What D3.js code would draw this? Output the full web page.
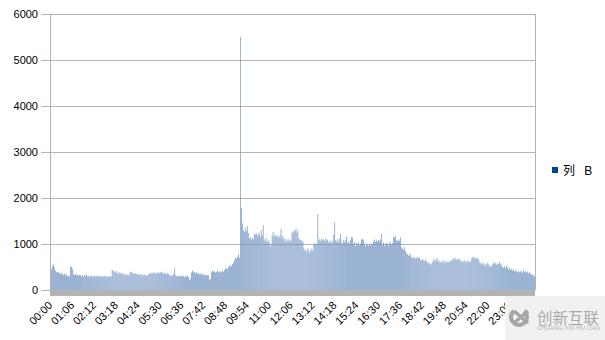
<!DOCTYPE html>
<html>
<head>
<meta charset="utf-8">
<script src="https://cdn.jsdelivr.net/npm/d3@7"></script>
<style>
html,body{margin:0;padding:0;background:#fff;}
svg{display:block;}
text{font-family:"Liberation Sans","Noto Sans CJK SC",sans-serif;}
</style>
</head>
<body>
<svg id="chart" width="605" height="340"></svg>
<script>
// ---- data (3-minute samples) ----
const values = [
 320,450,520,550,480,420,390,380,400,370,
 350,380,340,330,360,320,340,300,310,290,
 500,510,460,340,330,350,320,340,310,330,
 320,300,330,290,320,310,340,300,310,290,
 300,310,290,300,320,280,300,310,290,300,
 310,290,300,280,310,300,290,300,280,300,
 290,300,440,420,400,380,410,370,360,390,
 350,380,340,360,330,350,320,340,330,310,
 400,390,380,360,370,350,360,340,350,330,
 340,320,350,330,310,340,320,300,330,350,
 360,380,350,370,390,360,380,350,370,390,
 360,380,400,370,350,380,360,340,370,350,
 320,300,330,310,350,470,320,300,310,290,
 300,320,290,310,300,280,300,290,310,280,
 220,250,380,420,400,380,360,390,350,370,
 340,360,330,350,320,340,330,310,330,320,
 220,240,400,420,390,410,380,400,420,390,
 410,380,400,420,390,430,460,480,450,500,
 520,540,510,560,600,650,700,680,720,780,
 700,5500,1780,1450,1300,1250,1350,1280,1390,1240,
 1120,1150,1090,1130,1100,1220,1200,1240,1180,1210,
 1250,1150,1300,1180,1410,1100,1060,1130,1040,1090,
 1050,950,1000,1180,1260,1150,1200,1170,1190,1150,
 1150,1200,1340,1120,1180,1080,1120,1040,1100,1060,
 1110,1050,1090,1260,1240,1300,1280,1340,1250,1290,
 1120,1080,1100,1060,1050,900,850,880,820,910,
 860,800,870,900,850,1000,1020,990,1010,1650,
 1080,1110,1060,1120,1090,1100,1060,1120,1080,1100,
 1050,1020,1080,1010,1060,1200,1470,1080,1050,1110,
 1030,1120,1230,1050,1010,1080,1040,1090,1160,1020,
 1060,1010,1090,1160,1140,1000,1040,950,1020,980,
 1030,970,1010,1100,1110,1090,1000,950,1010,980,
 960,1000,970,1010,990,1060,1100,1040,1080,1050,
 1090,1060,1100,1230,1000,1040,960,1020,990,1030,
 950,1010,1040,980,1020,1160,1140,1170,1080,1060,
 1100,1070,1150,930,900,880,940,850,800,780,
 760,740,800,720,700,690,720,680,700,710,
 690,720,660,640,680,650,620,660,640,600,
 580,600,560,550,600,640,680,620,660,700,
 610,640,590,620,600,650,580,630,600,620,
 590,610,640,620,650,690,670,700,660,680,
 650,690,660,620,640,600,630,650,590,620,
 640,610,600,630,700,720,690,710,680,700,
 690,650,600,580,560,600,540,580,520,560,
 590,550,500,530,510,560,600,570,590,550,
 580,560,610,570,540,500,480,520,470,530,
 500,450,480,430,460,420,450,400,430,410,
 390,420,380,410,400,370,430,390,410,380,
 400,360,390,350,340,330,320,300
];
const tickLabels = ["00:00","01:06","02:12","03:18","04:24","05:30","06:36","07:42","08:48","09:54","11:00",
  "12:06","13:12","14:18","15:24","16:30","17:36","18:42","19:48","20:54","22:00","23:06"];
const labelStep = 22;               // categories between labels
const yTicks = [0,1000,2000,3000,4000,5000,6000];
const seriesName = "列 B";

// ---- layout ----
const svg = d3.select("#chart");
const L = 50, R = 535, T = 14, B = 290;
const x = d3.scaleBand().domain(d3.range(values.length)).range([L, R]).paddingInner(0.3).paddingOuter(0.15);
const y = d3.scaleLinear().domain([0, 6000]).range([B, T]);
const grid = "#b3b3b3";

// gridlines
svg.append("g").selectAll("line").data(yTicks).join("line")
  .attr("x1", L).attr("x2", R).attr("y1", d => y(d)).attr("y2", d => y(d))
  .attr("stroke", grid).attr("stroke-width", 1).attr("shape-rendering", "crispEdges");

// bars
svg.append("g").selectAll("rect").data(values).join("rect")
  .attr("x", (d, i) => x(i))
  .attr("width", x.bandwidth())
  .attr("y", d => y(d))
  .attr("height", d => y(0) - y(d))
  .attr("fill", "#6f92c0");

// y axis
const yAxis = d3.axisLeft(y).tickValues(yTicks).tickSize(9).tickPadding(3).tickFormat(d3.format("d"));
const ya = svg.append("g").attr("transform", `translate(${L},0)`).call(yAxis);
ya.select(".domain").attr("stroke", grid).attr("shape-rendering", "crispEdges");
ya.selectAll(".tick line").attr("stroke", grid).attr("shape-rendering", "crispEdges");
ya.selectAll(".tick text").attr("font-size", 11).attr("fill", "#000")
  .attr("font-family", "Liberation Sans");

// right border
svg.append("line").attr("x1", R).attr("x2", R).attr("y1", T).attr("y2", B)
  .attr("stroke", grid).attr("shape-rendering", "crispEdges");

// x axis: dense category ticks form a grey band
svg.append("rect").attr("x", L).attr("y", B + 1).attr("width", R - L).attr("height", 5).attr("fill", grid);

// x labels
const labIdx = tickLabels.map((t, k) => k * labelStep);
svg.append("g").selectAll("text").data(tickLabels).join("text")
  .attr("transform", (t, k) => `translate(${x(labIdx[k]) + 3},${B + 16}) rotate(-45)`)
  .attr("text-anchor", "end")
  .attr("font-size", 11)
  .attr("fill", "#000")
  .text(t => t);

// legend
svg.append("rect").attr("x", 552).attr("y", 167).attr("width", 6).attr("height", 6).attr("fill", "#004586");
svg.append("text").attr("x", 563).attr("y", 174.5).attr("font-size", 12).attr("fill", "#000")
  .attr("word-spacing", 6).text(seriesName);

// watermark
const wm = svg.append("g");
wm.append("rect").attr("x", 505).attr("y", 296).attr("width", 100).attr("height", 44).attr("fill", "#f1f1f1");
wm.append("path").attr("d", d3.arc()({innerRadius: 6, outerRadius: 10, startAngle: 0.7, endAngle: 2 * Math.PI - 0.7}))
  .attr("transform", "translate(519,317)").attr("fill", "#a6a6a6");
wm.append("path").attr("d", "M514,311 L528,323 M528,311 L514,323")
  .attr("stroke", "#a6a6a6").attr("stroke-width", 3.5).attr("fill", "none");
wm.append("text").attr("x", 537).attr("y", 323.5).attr("font-size", 15.5)
  .attr("font-family", "Noto Sans CJK SC").attr("fill", "#a9a9a9").text("创新互联");
wm.append("text").attr("x", 537).attr("y", 330).attr("font-size", 4.5)
  .attr("textLength", 63).attr("lengthAdjust", "spacingAndGlyphs").attr("fill", "#b3b3b3").text("CHUANG XIN HU LIAN");
</script>
</body>
</html>
